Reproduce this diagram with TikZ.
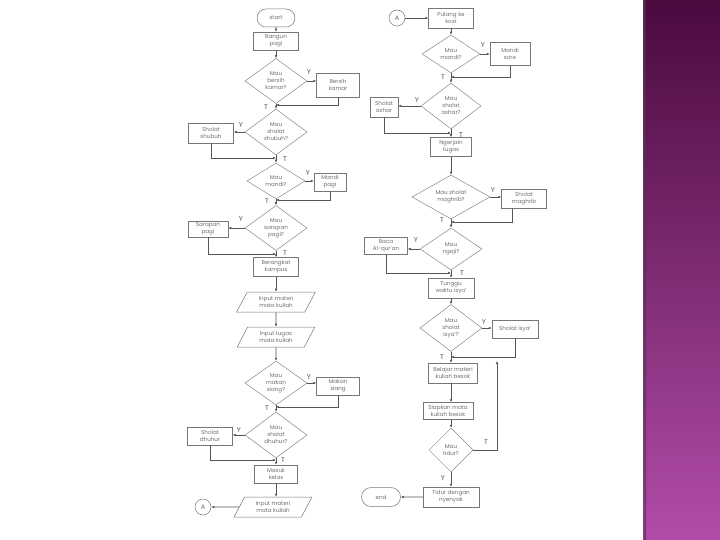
\documentclass[tikz,border=0pt]{standalone}
\usepackage{fontspec}
\setmainfont{Poppins}
\usetikzlibrary{shapes.geometric,shapes.misc,arrows.meta}
\definecolor{lin}{HTML}{555555}
\definecolor{txt}{HTML}{707070}
\definecolor{ptop}{HTML}{4A0A3E}
\definecolor{pbot}{HTML}{B24CA8}
\tikzset{
  base/.style={draw=lin!80, line width=0.5pt, inner sep=0.5pt, align=center, text=txt, font=\fontsize{5.6}{7}\selectfont},
  box/.style={base, rectangle},
  dec/.style={base, diamond, draw=lin!70},
  io/.style={base, trapezium, trapezium left angle=62, trapezium right angle=118, trapezium stretches=true},
  term/.style={base, rounded rectangle},
  circ/.style={base, circle, minimum size=16pt, font=\fontsize{6.5}{6.5}\selectfont},
  arr/.style={draw=lin, line width=0.6pt, -{Latex[length=3pt,width=2.6pt]}},
  lbl/.style={text=lin, font=\fontsize{7}{7}\selectfont, inner sep=0pt}
}
\begin{document}
\begin{tikzpicture}[x=1pt,y=-1pt]
\useasboundingbox (0,0) rectangle (720,540);
\fill[white] (0,0) rectangle (720,540);
\shade[top color=ptop, bottom color=pbot] (643,0) rectangle (720,540);
\shade[left color=black!70, right color=ptop!80!pbot, opacity=0.6] (643,0) rectangle (646,540);

% ---------- left column ----------
\node[term, minimum width=39, minimum height=18] (start) at (276,18) {start};
\node[box, minimum width=45, minimum height=18] (bangun) at (276,41) {Bangun\\pagi};
\node[dec, minimum width=62, minimum height=45, shape aspect=1.38] (d1) at (276,81) {Mau\\bersih\\kamar?};
\node[box, minimum width=43, minimum height=24] (bersih) at (338,85) {Bersih\\kamar};
\coordinate (j1) at (276,105);
\node[dec, minimum width=62, minimum height=46, shape aspect=1.35] (d2) at (276,132) {Mau\\shalat\\shubuh?};
\node[box, minimum width=45, minimum height=20] (shubuh) at (211,133) {Sholat\\shubuh};
\coordinate (j2) at (276,158);
\node[dec, minimum width=58, minimum height=36, shape aspect=1.6] (d3) at (276,181) {Mau\\mandi?};
\node[box, minimum width=32, minimum height=18] (mandi) at (330,182) {Mandi\\pagi};
\coordinate (j3) at (276,200);
\node[dec, minimum width=62, minimum height=45, shape aspect=1.38] (d4) at (276,228) {Mau\\sarapan\\pagi?};
\node[box, minimum width=40, minimum height=16] (sarapan) at (208,229) {Sarapan\\pagi};
\coordinate (j4) at (276,254);
\node[box, minimum width=45, minimum height=19] (berangkat) at (276,267) {Berangkat\\kampus};
\node[io, minimum width=79, minimum height=20] (in1) at (276,302) {Input materi\\mata kuliah};
\node[io, minimum width=78, minimum height=20] (in2) at (276,337) {Input tugas\\mata kuliah};
\node[dec, minimum width=62, minimum height=44, shape aspect=1.4] (d5) at (276,383) {Mau\\makan\\siang?};
\node[box, minimum width=43, minimum height=18] (makan) at (338,386) {Makan\\siang};
\coordinate (j5) at (276,407);
\node[dec, minimum width=62, minimum height=46, shape aspect=1.35] (d6) at (276,435) {Mau\\sholat\\dhuhur?};
\node[box, minimum width=45, minimum height=18] (dhuhur) at (210,436) {Sholat\\dhuhur};
\coordinate (j6) at (276,460);
\node[box, minimum width=43, minimum height=18] (masuk) at (276,474) {Masuk\\kelas};
\node[io, minimum width=78, minimum height=20] (in3) at (273,507) {Input materi\\mata kuliah};
\node[circ] (cA1) at (203,507) {A};

\draw[arr] (start) -- (bangun);
\draw[arr] (bangun) -- (d1);
\draw[arr] (d1.east) -- (bersih.west |- d1.east);
\draw[arr] (d1.south) -- (d2.north);
\draw[arr] (bersih.south) |- (j1);
\draw[arr] (d2.west) -- (shubuh.east |- d2.west);
\draw[arr] (d2.south) -- (d3.north);
\draw[arr] (shubuh.south) |- (j2);
\draw[arr] (d3.east) -- (mandi.west |- d3.east);
\draw[arr] (d3.south) -- (d4.north);
\draw[arr] (mandi.south) |- (j3);
\draw[arr] (d4.west) -- (sarapan.east |- d4.west);
\draw[arr] (d4.south) -- (berangkat.north);
\draw[arr] (sarapan.south) |- (j4);
\draw[arr] (berangkat) -- (in1);
\draw[arr] (in1) -- (in2);
\draw[arr] (in2) -- (d5.north);
\draw[arr] (d5.east) -- (makan.west |- d5.east);
\draw[arr] (d5.south) -- (d6.north);
\draw[arr] (makan.south) |- (j5);
\draw[arr] (d6.west) -- (dhuhur.east |- d6.west);
\draw[arr] (d6.south) -- (masuk.north);
\draw[arr] (dhuhur.south) |- (j6);
\draw[arr] (masuk.south) -- (in3.north -| masuk.south);
\draw[arr] (in3) -- (cA1);

\node[lbl] at (309,72) {Y};
\node[lbl] at (266,107) {T};
\node[lbl] at (241,125) {Y};
\node[lbl] at (285,159) {T};
\node[lbl] at (308,173) {Y};
\node[lbl] at (267,201) {T};
\node[lbl] at (241,219) {Y};
\node[lbl] at (285,253) {T};
\node[lbl] at (309,377) {Y};
\node[lbl] at (267,408) {T};
\node[lbl] at (239,430) {Y};
\node[lbl] at (283,460) {T};

% ---------- right column ----------
\node[circ] (cA2) at (397,18) {A};
\node[box, minimum width=45, minimum height=20] (pulang) at (451,18) {Pulang ke\\kost};
\node[dec, minimum width=58, minimum height=38, shape aspect=1.5] (e1) at (451,54) {Mau\\mandi?};
\node[box, minimum width=40, minimum height=23] (sore) at (510,54) {Mandi\\sore};
\coordinate (k1) at (451,77);
\node[dec, minimum width=60, minimum height=46, shape aspect=1.3] (e2) at (451,106) {Mau\\sholat\\ashar?};
\node[box, minimum width=28, minimum height=20] (ashar) at (384,107) {Sholat\\ashar};
\coordinate (k2) at (451,133);
\node[box, minimum width=41, minimum height=19] (tugas) at (451,147) {Ngerjain\\tugas};
\node[dec, minimum width=78, minimum height=44, shape aspect=1.77] (e3) at (451,197) {Mau sholat\\maghrib?};
\node[box, minimum width=45, minimum height=19] (maghrib) at (524,199) {Sholat\\maghrib};
\coordinate (k3) at (451,222);
\node[dec, minimum width=62, minimum height=42, shape aspect=1.48] (e4) at (451,249) {Mau\\ngaji?};
\node[box, minimum width=43, minimum height=17] (ngaji) at (386,246) {Baca\\Al-qur'an};
\coordinate (k4) at (451,273);
\node[box, minimum width=46, minimum height=20] (tunggu) at (451,288) {Tunggu\\waktu isya'};
\node[dec, minimum width=62, minimum height=47, shape aspect=1.32] (e5) at (451,328) {Mau\\sholat\\isya'?};
\node[box, minimum width=46, minimum height=18] (isya) at (515,329) {Sholat isya'};
\coordinate (k5) at (451,357);
\node[box, minimum width=49, minimum height=20] (belajar) at (453,373) {Belajar materi\\kuliah besok};
\node[box, minimum width=50, minimum height=17] (siapkan) at (448,411) {Siapkan mata\\kuliah besok};
\node[dec, minimum width=44, minimum height=44] (e6) at (451,450) {Mau\\tidur?};
\coordinate (k6) at (497,450);
\coordinate (k7) at (497,361);
\node[box, minimum width=56, minimum height=20] (tidur) at (451,497) {Tidur dengan\\nyenyak};
\node[term, minimum width=40, minimum height=19] (endn) at (381,497) {end};

\draw[arr] (cA2) -- (pulang);
\draw[arr] (pulang) -- (e1.north);
\draw[arr] (e1.east) -- (sore.west);
\draw[arr] (e1.south) -- (e2.north);
\draw[arr] (sore.south) |- (k1);
\draw[arr] (e2.west) -- (ashar.east |- e2.west);
\draw[arr] (e2.south) -- (tugas.north);
\draw[arr] (ashar.south) |- (k2);
\draw[arr] (tugas) -- (e3.north);
\draw[arr] (e3.east) -- (maghrib.west |- e3.east);
\draw[arr] (e3.south) -- (e4.north);
\draw[arr] ([xshift=-12pt]maghrib.south) |- (k3);
\draw[arr] (e4.west) -- (ngaji.east |- e4.west);
\draw[arr] (e4.south) -- (tunggu.north);
\draw[arr] (ngaji.south) |- (k4);
\draw[arr] (tunggu) -- (e5.north);
\draw[arr] (e5.east) -- (isya.west |- e5.east);
\draw[arr] (e5.south) -- (belajar.north -| e5.south);
\draw[arr] (isya.south) |- (k5);
\draw[arr] (belajar.south -| e6.north) -- (siapkan.north -| e6.north);
\draw[arr] (siapkan.south -| e6.north) -- (e6.north);
\draw[arr] (e6.east) -- (k6) -- (k7);
\draw[arr] (e6.south) -- (tidur.north);
\draw[arr] (tidur) -- (endn);

\node[lbl] at (483,45) {Y};
\node[lbl] at (443,77) {T};
\node[lbl] at (417,100) {Y};
\node[lbl] at (461,135) {T};
\node[lbl] at (493,190) {Y};
\node[lbl] at (442,220) {T};
\node[lbl] at (416,240) {Y};
\node[lbl] at (462,273) {T};
\node[lbl] at (484,322) {Y};
\node[lbl] at (442,357) {T};
\node[lbl] at (486,442) {T};
\node[lbl] at (443,478) {Y};
\end{tikzpicture}
\end{document}
